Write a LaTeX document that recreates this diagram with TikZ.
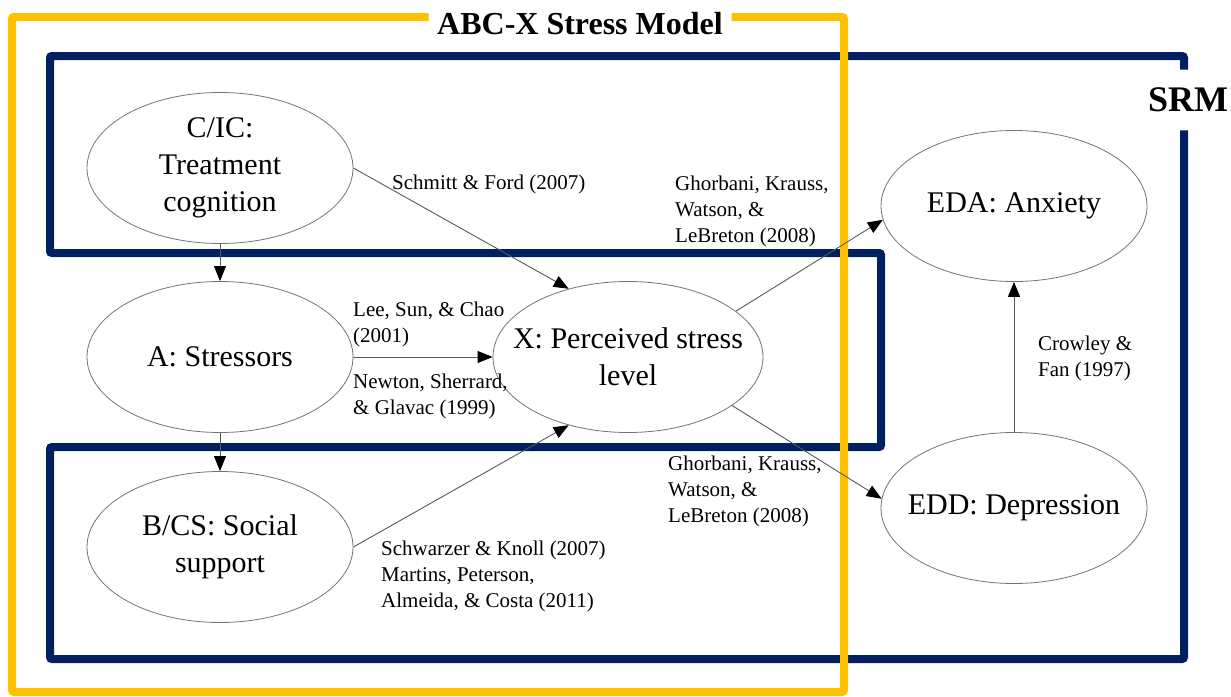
\documentclass[tikz,border=0pt]{standalone}
\usepackage{fontspec}
\setmainfont{Liberation Serif}
\usepackage{tikz}
\usetikzlibrary{shapes,arrows.meta}
\definecolor{abcgold}{RGB}{255,192,0}
\definecolor{srmnavy}{RGB}{0,32,96}
\newcommand{\framew}{8pt}
\newcommand{\linkw}{0.9pt}

\begin{document}
\begin{tikzpicture}[x=1pt,y=-1pt]
            %\draw[help lines] (0,0) grid[step=50] (1231,696);
            \tikzset{stage/.style = {ellipse, draw=black!55, line width=0.8pt, minimum width=266pt, minimum height=151pt,
                        inner xsep=-25pt, inner ysep=-12pt, align=center, font=\fontsize{30}{37}\selectfont},
                     refnote/.style = {anchor=north west, inner sep=0pt, align=left, font=\fontsize{21}{26}\selectfont},
                     link/.style = {draw=black!65, line width=\linkw, -{Triangle[length=15pt,width=12pt,color=black]}},
                     abcline/.style = {draw=abcgold, line width=\framew, rounded corners=2pt},
                     srmline/.style = {draw=srmnavy, line width=\framew, rounded corners=2pt}}
            \useasboundingbox (0,0) rectangle (1231,696);
            \node[stage] (cic) at (220,168) {C/IC:\\Treatment\\cognition};
            \node[stage] (str) at (220,357) {A: Stressors};
            \node[stage] (sup) at (220,547) {B/CS: Social\\support};
            \node[stage, minimum width=270pt] (psl) at (628,357) {X: Perceived stress\\level};
            \node[stage] (eda) at (1014,206) {EDA: Anxiety};
            \node[stage] (edd) at (1014,508) {EDD: Depression};
            \node[font=\bfseries\fontsize{32}{38}\selectfont, inner xsep=8.5pt, inner ysep=0pt] (ttl) at (580,24) {ABC-X Stress Model};
            \node[font=\bfseries\fontsize{36}{43}\selectfont, inner xsep=2pt, inner ysep=18pt] (srm) at (1188,100) {SRM};
            % frames
            \draw[srmline] (srm.north -| 1184,0) -- (1184,56) -- (50,56) -- (50,253) -- (881,253) -- (881,447)
                -- (50,447) -- (50,659) -- (1184,659) -- (srm.south -| 1184,0);
            \draw[abcline] (ttl.west |- 0,17) -- (12,17) -- (12,692) -- (844,692) -- (844,17) -- (ttl.east |- 0,17);
            % sources
            \node[refnote] (sf) at (392,175) {Schmitt \& Ford (2007)};
            \node[refnote] (gk1) at (675,176) {Ghorbani, Krauss,\\Watson, \&\\LeBreton (2008)};
            \node[refnote] (lsc) at (353,302) {Lee, Sun, \& Chao\\(2001)};
            \node[refnote] (nsg) at (353,374) {Newton, Sherrard,\\\& Glavac (1999)};
            \node[refnote] (gk2) at (668,456) {Ghorbani, Krauss,\\Watson, \&\\LeBreton (2008)};
            \node[refnote] (skm) at (381,541) {Schwarzer \& Knoll (2007)\\Martins, Peterson,\\Almeida, \& Costa (2011)};
            \node[refnote] (cf) at (1038,336) {Crowley \&\\Fan (1997)};
            % paths
            \draw[link] (cic) -- (str);
            \draw[link] (str) -- (sup);
            \draw[link] (cic.east) -- (psl.131);
            \draw[link] (str) -- (psl);
            \draw[link] (sup.east) -- (psl.229);
            \draw[link] (psl.23) -- (eda.186);
            \draw[link] (psl.335) -- (edd.176);
            \draw[link] (edd) -- (eda);
        \end{tikzpicture}
\end{document}
